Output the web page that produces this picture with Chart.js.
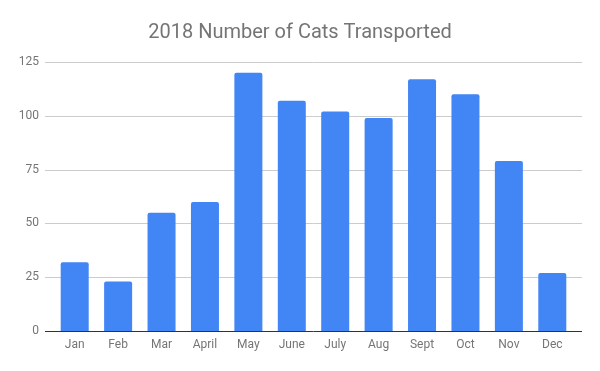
<!DOCTYPE html>
<html>
<head>
<meta charset="utf-8">
<script src="https://cdn.jsdelivr.net/npm/chart.js@4"></script>
<style>
  html, body { margin: 0; padding: 0; background: #fff; }
  #wrap { width: 600px; height: 371px; }
</style>
</head>
<body>
<div id="wrap"><canvas id="chart"></canvas></div>
<script>
const months = ["Jan", "Feb", "Mar", "April", "May", "June", "July", "Aug", "Sept", "Oct", "Nov", "Dec"];
const catsTransported = [32, 23, 55, 60, 120, 107, 102, 99, 117, 110, 79, 27];
const yTicks = [0, 25, 50, 75, 100, 125];

const textColor = "#757575";
const gridOverhang = 8; // gridlines run a little past the outer bars

function drawLine(chart, value, color) {
  const { ctx, chartArea, scales } = chart;
  const py = Math.round(scales.y.getPixelForValue(value)) + 0.5;
  ctx.save();
  ctx.strokeStyle = color;
  ctx.lineWidth = 1;
  ctx.beginPath();
  ctx.moveTo(chartArea.left - gridOverhang, py);
  ctx.lineTo(chartArea.right + gridOverhang, py);
  ctx.stroke();
  ctx.restore();
}

// horizontal gridlines, a bit wider than the chart area
const wideGrid = {
  id: "wideGrid",
  beforeDatasetsDraw(chart) {
    chart.scales.y.ticks.forEach((t) => {
      if (t.value !== 0) drawLine(chart, t.value, "#cccccc");
    });
  },
  afterDatasetsDraw(chart) {
    drawLine(chart, 0, "#333333");
  },
};

new Chart(document.getElementById("chart"), {
  type: "bar",
  data: {
    labels: months,
    datasets: [{
      label: "Cats",
      data: catsTransported,
      backgroundColor: "#4285F4",
      borderRadius: 2,
      borderSkipped: "bottom",
      categoryPercentage: 1,
      barPercentage: 0.645,
    }],
  },
  options: {
    responsive: true,
    maintainAspectRatio: false,
    animation: false,
    layout: { padding: 0 },
    plugins: {
      legend: { display: false },
      tooltip: { enabled: false },
      title: {
        display: true,
        text: "2018 Number of Cats Transported",
        color: textColor,
        font: { family: "Roboto", size: 20, weight: "normal" },
        padding: { top: 21, bottom: 17 },
      },
    },
    scales: {
      x: {
        grid: { display: false, drawTicks: false },
        border: { display: false },
        ticks: {
          color: textColor,
          font: { family: "Roboto", size: 12 },
          padding: 7,
          maxRotation: 0,
        },
        afterFit: (scale) => { scale.height = 40; },
      },
      y: {
        min: 0,
        max: 125,
        afterBuildTicks: (scale) => { scale.ticks = yTicks.map(v => ({ value: v })); },
        grid: { display: false, drawTicks: false },
        border: { display: false },
        ticks: {
          color: textColor,
          font: { family: "Roboto", size: 12 },
          padding: 14,
        },
        afterFit: (scale) => { scale.width = 53; },
      },
      // empty right-hand spacer so the plot sits centred under the title
      right: {
        position: "right",
        display: true,
        grid: { display: false, drawTicks: false },
        border: { display: false },
        ticks: { display: false },
        afterFit: (scale) => { scale.width = 26; },
      },
    },
  },
  plugins: [wideGrid],
});
</script>
</body>
</html>
